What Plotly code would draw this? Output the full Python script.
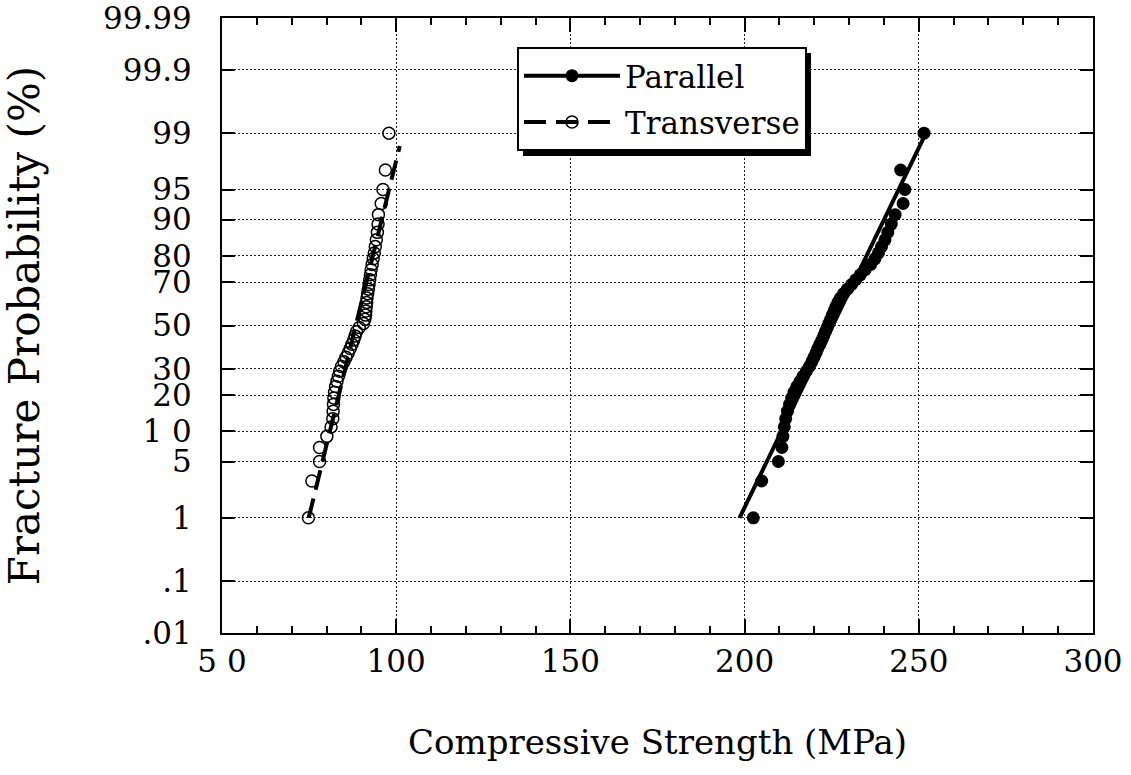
import plotly.graph_objects as go
from statistics import NormalDist

# Plotting positions (%) of the 50 ranked specimens in each direction
prob_pct = [1, 3, 5, 7, 9, 11, 13, 15, 17, 19, 21, 23, 25, 27, 29, 31, 33, 35, 37, 39,
            41, 43, 45, 47, 49, 51, 53, 55, 57, 59, 61, 63, 65, 67, 69, 71, 73, 75, 77, 79,
            81, 83, 85, 87, 89, 91, 93, 95, 97, 99]

# Compressive strength (MPa), loading parallel to the fibres
parallel_mpa = [202.5, 204.9, 209.7, 210.7, 211.0, 211.4, 211.8, 212.3, 212.9, 213.5,
                214.2, 215.0, 215.9, 216.8, 217.7, 218.6, 219.3, 219.9, 220.5, 221.0,
                221.6, 222.2, 222.7, 223.2, 223.7, 224.2, 224.7, 225.2, 225.7, 226.2,
                226.8, 227.5, 228.4, 229.5, 230.7, 231.9, 233.2, 234.6, 236.2, 237.4,
                238.4, 239.3, 240.3, 241.1, 242.1, 243.2, 245.5, 246.0, 244.8, 251.5]

# Compressive strength (MPa), loading transverse to the fibres
transverse_mpa = [74.8, 75.8, 78.0, 78.0, 80.1, 81.3, 81.8, 81.9, 82.0, 82.1,
                  82.3, 82.6, 83.0, 83.4, 83.8, 84.3, 85.0, 85.6, 86.2, 86.8,
                  87.3, 87.8, 88.2, 88.6, 89.4, 90.6, 91.0, 91.2, 91.3, 91.4,
                  91.5, 91.6, 91.8, 92.0, 92.2, 92.4, 92.6, 92.8, 93.1, 93.4,
                  93.7, 94.0, 94.3, 94.6, 94.8, 94.9, 95.7, 96.2, 96.9, 97.9]

# Normal-distribution fits: mean, standard deviation (MPa), probability span (%)
parallel_fit_mean, parallel_fit_std = 225.3, 11.5
parallel_fit_span = [1, 99]
transverse_fit_mean, transverse_fit_std = 88.4, 5.81
transverse_fit_span = [1, 98.5]

# Axis ticks
prob_ticks = [0.01, 0.1, 1, 5, 10, 20, 30, 50, 70, 80, 90, 95, 99, 99.9, 99.99]
prob_tick_text = [".01", ".1", "1", "5", "1 0", "20", "30", "50", "70", "80",
                  "90", "95", "99", "99.9", "99.99"]
strength_ticks = [50, 100, 150, 200, 250, 300]
strength_tick_text = ["5 0", "100", "150", "200", "250", "300"]

nd = NormalDist()


def z_of(p_pct):
    """Normal probability-paper coordinate of a percentage."""
    return nd.inv_cdf(p_pct / 100.0)


def fit_line(mean, std, span):
    zs = [z_of(p) for p in span]
    return [mean + std * z for z in zs], zs


FONT = "DejaVu Serif"
W, H = 1131, 775
L, R, T, B = 222, 38, 18, 142

fig = go.Figure()

# fitted lines
px, pz = fit_line(parallel_fit_mean, parallel_fit_std, parallel_fit_span)
fig.add_trace(go.Scatter(x=px, y=pz, mode="lines", showlegend=False,
                         line=dict(color="black", width=4), hoverinfo="skip"))
tx, tz = fit_line(transverse_fit_mean, transverse_fit_std, transverse_fit_span)
fig.add_trace(go.Scatter(x=tx, y=tz, mode="lines", showlegend=False,
                         line=dict(color="black", width=4, dash="20px,9px"),
                         hoverinfo="skip"))

# measured points
fig.add_trace(go.Scatter(
    x=parallel_mpa, y=[z_of(p) for p in prob_pct], mode="markers", showlegend=False,
    marker=dict(symbol="circle", size=13, color="black",
                line=dict(color="black", width=0)),
    customdata=prob_pct, hovertemplate="%{x} MPa, %{customdata}%<extra>Parallel</extra>"))
fig.add_trace(go.Scatter(
    x=transverse_mpa, y=[z_of(p) for p in prob_pct], mode="markers", showlegend=False,
    marker=dict(symbol="circle-open", size=12, color="black",
                line=dict(color="black", width=1.5)),
    customdata=prob_pct, hovertemplate="%{x} MPa, %{customdata}%<extra>Transverse</extra>"))

# legend entries
fig.add_trace(go.Scatter(x=[None], y=[None], mode="lines+markers", name="Parallel",
                         legendgroup="par",
                         line=dict(color="black", width=4),
                         marker=dict(symbol="circle", size=13, color="black")))
fig.add_trace(go.Scatter(x=[None], y=[None], mode="lines+markers", name="Transverse",
                         legendgroup="tra",
                         line=dict(color="black", width=4, dash="22px,10px"),
                         marker=dict(symbol="circle-open", size=12, color="black",
                                     line=dict(width=1.5))))

pw, ph = W - L - R, H - T - B


def paper_x(v):
    return (v - L) / pw


def paper_y(v):
    return (H - B - v) / ph


# drop shadow behind the legend box
fig.add_shape(type="rect", xref="paper", yref="paper",
              x0=paper_x(523), x1=paper_x(811), y0=paper_y(156), y1=paper_y(53),
              fillcolor="black", line=dict(width=0), layer="above")

axis_common = dict(
    showline=True, linecolor="black", linewidth=2, mirror="ticks",
    ticks="inside", tickcolor="black", tickwidth=2,
    showgrid=True, gridcolor="#222", gridwidth=1, griddash="2px,2px",
    zeroline=False, ticklabeloverflow="allow", automargin=False,
    tickfont=dict(family=FONT, size=31, color="black"),
)

zpad = 1e-6
fig.update_layout(
    width=W, height=H,
    margin=dict(l=L, r=R, t=T, b=B),
    paper_bgcolor="white", plot_bgcolor="white",
    font=dict(family=FONT, color="black"),
    xaxis=dict(
        range=[50, 300], tickvals=strength_ticks, ticktext=strength_tick_text,
        ticklen=14,
        minor=dict(dtick=10, ticks="inside", ticklen=7, tickcolor="black",
                   tickwidth=1.5, showgrid=False),
        title=dict(text="Compressive Strength (MPa)", standoff=52,
                   font=dict(family=FONT, size=34, color="black")),
        **axis_common),
    yaxis=dict(
        range=[z_of(0.01) - zpad, z_of(99.99) + zpad],
        tickvals=[z_of(p) for p in prob_ticks], ticktext=prob_tick_text,
        ticklen=13, ticklabelstandoff=22,
        title=dict(text="Fracture Probability (%)", standoff=53,
                   font=dict(family=FONT, size=42, color="black")),
        **axis_common),
    legend=dict(
        x=paper_x(517), y=paper_y(47), xanchor="left", yanchor="top",
        bgcolor="white", bordercolor="black", borderwidth=2,
        font=dict(family=FONT, size=31, color="black"),
        itemwidth=96, tracegroupgap=3, traceorder="grouped",
    ),
    showlegend=True,
)

fig.write_html("out.html")
